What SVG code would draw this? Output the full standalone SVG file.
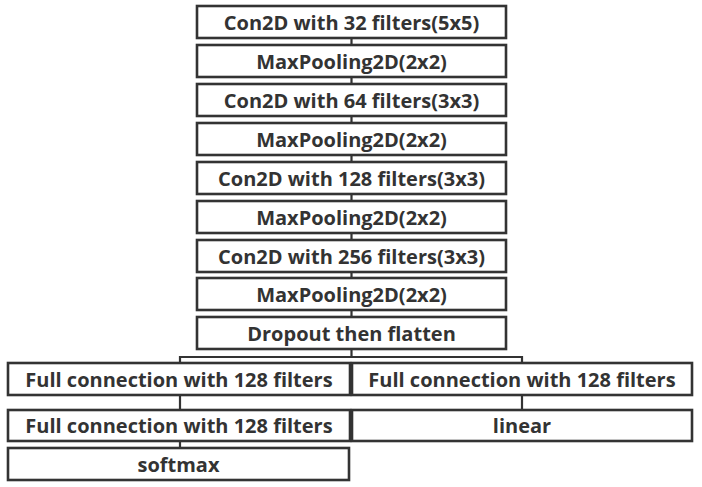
<svg xmlns="http://www.w3.org/2000/svg" width="702" height="487" viewBox="0 0 702 487">
<style>
.b rect{fill:#fff;stroke:#333;stroke-width:2.6}
.b text{font-family:"Open Sans","Noto Sans","DejaVu Sans",sans-serif;font-weight:bold;font-size:20px;fill:#333;text-anchor:middle;dominant-baseline:central}
#conn path{fill:none;stroke:#333;stroke-width:2.2}
</style>
<rect width="702" height="487" fill="#fff"/>
<g id="conn">
<path d="M351.5 38V45M351.5 77V84M351.5 116V123M351.5 155V162M351.5 194V201M351.5 233V240M351.5 272V278M351.5 310V317"/>
<path d="M351.5 349V357M180 363V357H522V363"/>
<path d="M180 395V410M180 441V448M522 395V410"/>
</g>
<g class="b">
<g id="n1"><rect x="197" y="6" width="309" height="32"/><text x="351.5" y="22">Con2D with 32 filters(5x5)</text></g>
<g id="n2"><rect x="197" y="45" width="309" height="32"/><text x="351.5" y="61">MaxPooling2D(2x2)</text></g>
<g id="n3"><rect x="197" y="84" width="309" height="32"/><text x="351.5" y="100">Con2D with 64 filters(3x3)</text></g>
<g id="n4"><rect x="197" y="123" width="309" height="32"/><text x="351.5" y="139">MaxPooling2D(2x2)</text></g>
<g id="n5"><rect x="197" y="162" width="309" height="32"/><text x="351.5" y="178">Con2D with 128 filters(3x3)</text></g>
<g id="n6"><rect x="197" y="201" width="309" height="32"/><text x="351.5" y="217">MaxPooling2D(2x2)</text></g>
<g id="n7"><rect x="197" y="240" width="309" height="32"/><text x="351.5" y="256">Con2D with 256 filters(3x3)</text></g>
<g id="n8"><rect x="197" y="278" width="309" height="32"/><text x="351.5" y="294">MaxPooling2D(2x2)</text></g>
<g id="n9"><rect x="197" y="317" width="309" height="32"/><text x="351.5" y="333">Dropout then flatten</text></g>
<g id="n10"><rect x="8" y="363" width="342" height="32"/><text x="179" y="379">Full connection with 128 filters</text></g>
<g id="n11"><rect x="352" y="363" width="340" height="32"/><text x="522" y="379">Full connection with 128 filters</text></g>
<g id="n12"><rect x="8" y="410" width="342" height="31"/><text x="179" y="425.5">Full connection with 128 filters</text></g>
<g id="n13"><rect x="352" y="410" width="340" height="31"/><text x="522" y="425.5">linear</text></g>
<g id="n14"><rect x="8" y="448" width="341" height="32"/><text x="178.5" y="464">softmax</text></g>
</g>
</svg>
